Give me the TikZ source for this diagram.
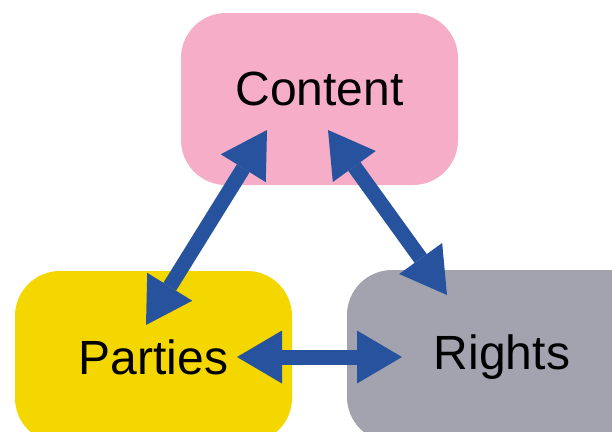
\documentclass[tikz,border=0pt]{standalone}
\usepackage{fontspec}
\setmainfont{Liberation Sans}
\usetikzlibrary{calc}
\usetikzlibrary{arrows.meta}
\definecolor{contentpink}{RGB}{246,174,200}
\definecolor{partiesyellow}{RGB}{245,215,0}
\definecolor{rightsgray}{RGB}{163,163,176}
\definecolor{linkblue}{RGB}{39,82,157}

\begin{document}
\begin{tikzpicture}[x=1pt,y=1pt,
    main node/.style={rectangle,rounded corners=45pt,minimum width=277pt,minimum height=172pt,
      text height=35pt,text depth=0pt,font=\fontsize{48}{58}\selectfont},
    link/.style={line width=15pt,color=linkblue,
      {Triangle[length=45pt,width=53pt,line width=0pt]}-{Triangle[length=45pt,width=53pt,line width=0pt]}}]
    \useasboundingbox (0,0) rectangle (612,-431);

    \node[main node,fill=contentpink,text depth=23pt] (content) at (319.5,-99) {Content};
    \node[main node,fill=partiesyellow] (parties) at (153.5,-357) {Parties};
    \node[main node,fill=rightsgray,minimum width=310pt,text depth=9pt] (rights) at (502,-356) {Rights};

    \draw[link] ($(parties)+(-7.5,32)$) -- ($(content)+(-52.5,-31)$);
    \draw[link] ($(content)+(8.5,-31)$) -- ($(rights)+(-55,61)$);
    \draw[link] ($(parties)+(83.5,0)$) -- ($(rights)+(-100,-1)$);
  \end{tikzpicture}
\end{document}
